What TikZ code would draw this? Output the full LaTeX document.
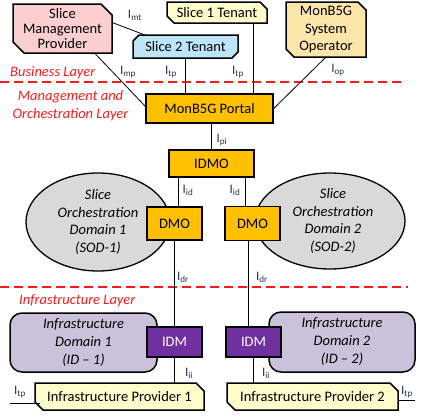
\documentclass[tikz,border=0pt]{standalone}
\usepackage{fontspec}
\setmainfont{Carlito}
\usetikzlibrary{shapes.geometric, positioning, calc, backgrounds}
\definecolor{smppink}{HTML}{FBCFCF}
\definecolor{tenantblue}{HTML}{BDE5F8}
\definecolor{tenantyellow}{HTML}{FFFDCC}
\definecolor{opbeige}{HTML}{FCE5A9}
\definecolor{mongold}{HTML}{FFC000}
\definecolor{idmpurple}{HTML}{7030A0}
\definecolor{sodgray}{HTML}{D9D9D9}
\definecolor{idlilac}{HTML}{CCC1DA}
\definecolor{layerred}{HTML}{FF1A1A}
\definecolor{ifblue}{HTML}{24305E}
\newcommand{\iface}[1]{I\textsubscript{#1}}
% cut-corner outlines behind a node: top right + bottom left, or top left + bottom right
\newcommand{\neswbox}[3]{\filldraw[boxline, fill=#2] (#1.north west) -- ([xshift=-#3]#1.north east) -- ([yshift=-#3]#1.north east) -- (#1.south east) -- ([xshift=#3]#1.south west) -- ([yshift=#3]#1.south west) -- cycle;}
\newcommand{\nwsebox}[3]{\filldraw[boxline, fill=#2] ([xshift=#3]#1.north west) -- (#1.north east) -- ([yshift=#3]#1.south east) -- ([xshift=-#3]#1.south east) -- (#1.south west) -- ([yshift=-#3]#1.north west) -- cycle;}

\begin{document}
\begin{tikzpicture}[x=1pt, y=-1pt,
    every node/.style={font=\fontsize{14.5}{17.5}\selectfont, align=center, inner sep=1pt},
    boxline/.style={draw, line width=1.5pt, line join=miter},
    chambox/.style={rectangle, outer sep=0pt},
    goldbox/.style={draw, line width=1.5pt, fill=mongold},
    idmbox/.style={draw, line width=1.5pt, fill=idmpurple, text=white, minimum width=55pt, minimum height=30pt},
    sodshape/.style={draw, line width=1.3pt, fill=sodgray, ellipse, font=\fontsize{14.5}{17.5}\selectfont\itshape},
    infra/.style={draw, line width=1.5pt, fill=idlilac, rounded corners=12pt, minimum width=147pt, minimum height=59pt, font=\fontsize{14.5}{18}\selectfont\itshape},
    link/.style={draw, line width=0.8pt},
    layerline/.style={draw=layerred, line width=1.2pt, dash pattern=on 9pt off 5pt},
    layer/.style={text=layerred, font=\fontsize{14.5}{18}\selectfont\itshape, inner sep=0pt},
    iface/.style={text=ifblue, font=\fontsize{13}{13}\selectfont, inner sep=0pt},
]
\useasboundingbox (0,0) rectangle (423,418);

% business layer
\node[chambox, minimum width=99pt, minimum height=49pt, font=\fontsize{14.5}{15}\selectfont] (smp) at (62.5,28.5) {Slice\\Management\\Provider};
\node[chambox, minimum width=105pt, minimum height=23pt] (st2) at (185.5,46.5) {Slice 2 Tenant};
\node[chambox, minimum width=100pt, minimum height=21pt] (st1) at (217,12.5) {Slice 1 Tenant};
\node[chambox, minimum width=80pt, minimum height=55pt] (op) at (326,29.5) {MonB5G\\System\\Operator};

% management and orchestration layer
\node[goldbox, minimum width=127pt, minimum height=29pt] (portal) at (209.5,108.5) {MonB5G Portal};
\node[goldbox, minimum width=85pt, minimum height=27pt] (idmo) at (211.5,163.5) {IDMO};
\node[sodshape, minimum width=144pt, minimum height=98pt] (sod1) at (98,222) {Slice\\Orchestration\\Domain 1\\(SOD-1)};
\node[sodshape, minimum width=150pt, minimum height=96pt] (sod2) at (330,221) {\hspace*{6pt}Slice\\\hspace*{6pt}Orchestration\\\hspace*{6pt}Domain 2\\\hspace*{6pt}(SOD-2)};
\node[goldbox, minimum width=55pt, minimum height=33pt] (dmo1) at (174.5,223.5) {DMO};
\node[goldbox, minimum width=55pt, minimum height=34pt] (dmo2) at (252.5,223.5) {DMO};

% infrastructure layer
\node[infra] (id1) at (83.5,342.5) {Infrastructure\\Domain 1\\(ID – 1)};
\node[infra, minimum width=146pt, minimum height=60pt] (id2) at (342,342) {Infrastructure\\Domain 2\\(ID – 2)};
\node[idmbox] (idm1) at (174.5,342) {IDM};
\node[idmbox] (idm2) at (253.5,342) {IDM};
\node[chambox, minimum width=169pt, minimum height=27pt] (ip1) at (119.5,396.5) {Infrastructure Provider 1};
\node[chambox, minimum width=171pt, minimum height=27pt] (ip2) at (312.5,396.5) {Infrastructure Provider 2};

\begin{scope}[on background layer]
  \neswbox{smp}{smppink}{11pt}
  \nwsebox{st2}{tenantblue}{6pt}
  \neswbox{st1}{tenantyellow}{7pt}
  \neswbox{op}{opbeige}{8pt}
  \neswbox{ip1}{tenantyellow}{8pt}
  \neswbox{ip2}{tenantyellow}{8pt}
\end{scope}

% layer borders
\draw[layerline] (0,82) -- (405,82);
\draw[layerline] (0,287) -- (408,287);
\node[layer, anchor=west] (bl) at (10,73) {Business Layer};
\node[layer, align=center] (mol) at (70.5,106) {Management and\\Orchestration Layer};
\node[layer, anchor=west] (il) at (19,301) {Infrastructure Layer};

% interfaces
\draw[link] (smp.7) -- ([xshift=12pt]st2.north west);
\draw[link] ([xshift=32pt]smp.south) -- (portal.178);
\draw[link] (st2.south) -- (st2.south |- portal.north);
\draw[link] ([xshift=36pt]st1.south) -- ([xshift=36pt]st1.south |- portal.north);
\draw[link] (op.south) -- (portal.east);
\draw[link] (idmo.north |- portal.south) -- (idmo.north);
\draw[link] ([xshift=4pt]dmo1.north |- idmo.south) -- ([xshift=4pt]dmo1.north);
\draw[link] ([xshift=-7pt]dmo2.north |- idmo.south) -- ([xshift=-7pt]dmo2.north);
\draw[link] (dmo1.south) -- (idm1.north);
\draw[link] ([xshift=-4pt]dmo2.south) -- ([xshift=-4pt]dmo2.south |- idm2.north);
\draw[link] (idm1.south) -- (idm1.south |- ip1.north);
\draw[link] (idm2.south) -- (idm2.south |- ip2.north);
\coordinate (tp1) at (10,403);
\coordinate (tp2) at (415,400);
\draw[link] (tp1) -- ([xshift=5pt]tp1 -| ip1.west);
\draw[link] (ip2.east |- tp2) -- (tp2);

\node[iface] (lmt) at (135,15) {\iface{mt}};
\node[iface] (lmp) at (128,72) {\iface{mp}};
\node[iface] (ltp2) at (171,72) {\iface{tp}};
\node[iface] (ltp1) at (238,72) {\iface{tp}};
\node[iface] (lop) at (338,70) {\iface{op}};
\node[iface] (lpi) at (222,140) {\iface{pi}};
\node[iface] (lid1) at (188,190) {\iface{id}};
\node[iface] (lid2) at (235,190) {\iface{id}};
\node[iface] (ldr1) at (183,277) {\iface{dr}};
\node[iface] (ldr2) at (262,277) {\iface{dr}};
\node[iface] (lii1) at (189,373) {\iface{ii}};
\node[iface] (lii2) at (266,373) {\iface{ii}};
\node[iface] (ltp3) at (20,392) {\iface{tp}};
\node[iface] (ltp4) at (407,392) {\iface{tp}};
\end{tikzpicture}
\end{document}
